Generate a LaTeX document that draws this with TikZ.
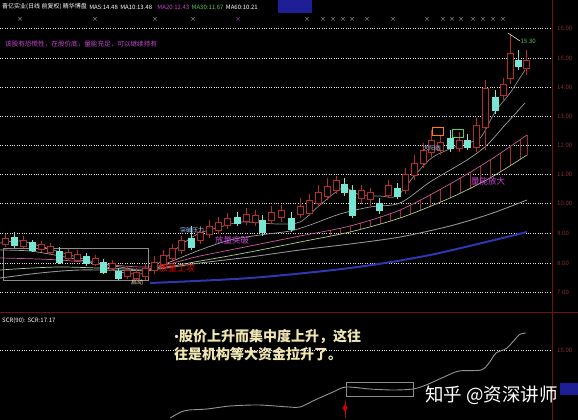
\documentclass[tikz,border=0pt]{standalone}
\usepackage{fontspec}
\setmainfont{Noto Sans CJK SC}
\usepackage{tikz}
\usetikzlibrary{positioning}
\definecolor{candlered}{RGB}{180,45,45}
\definecolor{candlecyan}{RGB}{120,230,210}
\definecolor{axisred}{RGB}{110,20,20}
\definecolor{labred}{RGB}{140,45,45}
\definecolor{magtext}{RGB}{200,70,210}
\definecolor{pinkline}{RGB}{200,90,150}
\definecolor{ribbonred}{RGB}{165,40,50}
\definecolor{greenline}{RGB}{175,205,140}
\definecolor{blueline}{RGB}{45,55,175}
\definecolor{hdrblue}{RGB}{30,30,150}
\definecolor{hdrgreen}{RGB}{90,200,90}
\definecolor{lightblue}{RGB}{170,200,255}
\definecolor{noteyellow}{RGB}{240,230,180}

\begin{document}
\begin{tikzpicture}[x=1pt,y=-1pt,
    rise/.style={draw=candlered,fill=black,line width=0.6pt},
    fall/.style={draw=candlecyan,fill=candlecyan,line width=0.6pt},
    maline/.style={line width=0.7pt},
    gridline/.style={gray!18,dotted,line width=0.4pt},
    axislab/.style={text=labred,font=\fontsize{6}{6}\selectfont,anchor=west,inner sep=0pt},
    hdr/.style={font=\fontsize{6}{6}\selectfont,inner sep=0pt},
    tag/.style={font=\fontsize{6}{6}\selectfont,inner sep=0.5pt}]
    \fill[black] (0,0) rectangle (578,420);
    \useasboundingbox (0,0) rectangle (578,420);
    % grid and axes
    \foreach \yy in {28,58,87,116,145,174,203,233,263,292,350}
      \draw[gridline] (0,\yy) -- (551,\yy);
    \draw[axisred,line width=0.8pt] (552,0) -- (552,420);
    \draw[axisred,line width=0.8pt] (0,312) -- (578,312);
    \foreach \p/\yy in {16.00/28,15.00/58,14.00/87,13.00/116,12.00/145,11.00/174,10.00/203,9.00/233,8.00/263,7.00/292,15.00/350}
      \node[axislab] (lab\yy) at (557,\yy) {\p};
    \fill[hdrblue] (560,383) rectangle (578,395);
    % header
    \node[hdr,anchor=west,text=white] (title) at (2,7) {晋亿实业(日线 前复权) 精华博盘};
    \node[hdr,right=2pt of title,text=white] (ma5) {MA5:14.48};
    \node[hdr,right=2pt of ma5,text=white] (ma10) {MA10:13.48};
    \node[hdr,right=5pt of ma10,text=magtext] (ma20) {MA20:12.43};
    \node[hdr,right=2pt of ma20,text=hdrgreen] (ma30) {MA30:11.67};
    \node[hdr,right=2pt of ma30,text=white] (ma60) {MA60:10.21};
    \fill[hdrblue] (278,0) rectangle (312,13);
    \foreach \x in {20,95,155,193,307,323,333,343,352,367,393,427,443,452,461,473,483,493,503}
      \node[hdr,text=gray!40] at (\x,19) {×};
    \node[hdr,text=magtext] at (238,19) {×};
    \node[hdr,anchor=west,text=magtext,font=\fontsize{6.6}{6.6}\selectfont] (hint) at (5,44) {该股有恐慌性，在股价底，量能充足，可以继续持有};
    % moving averages
    \draw[blueline,line width=2pt] plot[smooth] coordinates {(150,283) (250,278) (350,268) (430,255) (527,232)};
    \foreach \x/\a/\b in {330/230/236,340/228/234,350/226/232,360/222.8/229.2,370/219.6/226.4,380/216.4/223.6,390/213.2/220.8,400/210/218,410/204.8/214,420/199.6/210,430/194.4/206,440/189.2/202,450/184/198,460/178/193,470/172/188,480/166/183,490/160/178,500/153.2/171.8,510/146.5/165.6,520/139.7/159.4,527/135/155}
      \draw[ribbonred,line width=0.6pt] (\x,\a) -- (\x,\b);
    \draw[gray!85,line width=0.9pt] plot[smooth] coordinates {(0,278) (40,273) (80,270) (147,270) (200,263) (250,257) (300,250) (350,244) (400,237) (450,226) (490,214) (527,200)};
    \draw[greenline,maline] plot[smooth] coordinates {(0,270) (60,267) (147,269) (200,261) (250,252) (300,242) (350,232) (400,218) (450,198) (490,178) (527,155)};
    \draw[pinkline,maline] plot[smooth] coordinates {(0,258) (60,260) (147,267) (200,256) (250,246) (300,236) (350,226) (400,210) (450,184) (490,160) (527,135)};
    \draw[gray!75,maline] plot[smooth] coordinates {(0,250) (30,251) (60,256) (90,262) (120,267) (147,271) (170,262) (200,250) (230,240) (260,235) (290,231) (310,225) (340,214) (370,207) (400,203) (430,182) (467,160) (487,145) (505,125) (525,103)};
    \draw[gray!90,maline] plot[smooth] coordinates {(0,243) (20,241) (40,246) (60,252) (80,258) (100,264) (120,272) (140,274) (150,270) (165,258) (185,242) (200,233) (220,227) (240,222) (260,223) (280,224) (300,222) (320,205) (343,188) (360,195) (380,196) (397,196) (415,175) (433,157) (460,145) (480,138) (495,112) (510,93) (525,70)};
    \draw[gray!90,line width=0.7pt] (3,248) rectangle (148,280);
    % candles
    \foreach \x/\t/\b/\h/\l/\k in {5/238/244/234/247/rise,14/237/245/232/248/fall,23/240/246/236/248/rise,32/242/250/240/252/fall,
      41/244/249/241/252/rise,50/246/252/243/255/rise,59/251/262/247/264/fall,68/252/258/249/261/rise,77/254/260/250/262/rise,
      86/256/263/253/266/fall,95/258/264/255/266/rise,103/262/272/259/274/fall,112/263/268/260/271/rise,118/271/278/268/280/fall,
      127/270/276/266/279/rise,136/272/278/268/281/rise,145/268/276/264/280/rise,154/262/270/256/274/rise,163/255/264/250/268/rise,
      172/248/258/244/262/rise,181/240/250/236/254/rise,191/238/247/226/250/fall,200/232/240/226/244/rise,209/226/234/220/238/rise,
      218/222/230/217/234/rise,227/218/225/213/229/rise,237/217/223/212/226/fall,246/214/221/208/225/rise,255/215/222/210/226/rise,
      262/220/232/215/236/fall,271/212/220/206/224/rise,281/210/217/205/222/rise,291/218/229/212/232/fall,300/206/214/198/218/rise,
      309/200/213/194/216/rise,318/192/203/185/207/rise,327/186/196/178/200/rise,336/180/190/176/194/rise,344/184/192/178/196/fall,
      352/190/215/185/218/fall,361/190/198/185/204/rise,370/192/199/188/206/rise,379/203/210/198/214/fall,388/185/195/180/198/rise,
      397/188/196/183/199/fall,405/174/190/168/194/rise,414/163/175/155/180/rise,423/150/163/143/168/rise,431/140/152/130/157/rise,
      440/142/150/136/155/rise,450/138/148/130/152/fall,459/140/148/132/152/rise,467/140/147/134/150/fall,476/125/147/118/152/rise,
      485/88/127/80/150/rise,495/97/110/90/114/fall,503/84/95/78/100/rise,510/53/78/35/84/rise,518/60/66/50/70/fall,526/60/68/50/75/rise}
    {
      \draw[\k] (\x,\h) -- (\x,\t) (\x,\b) -- (\x,\l);
      \filldraw[\k] (\x-3,\t) rectangle (\x+3,\b);
    }
    % notes on the chart
    \node[tag,text=noteyellow] (start) at (137,282) {启动};
    \node[tag,text=red!85!black,font=\fontsize{9}{9}\selectfont] (volup) at (177,268) {放量上攻};
    \node[tag,text=lightblue] (brk) at (192,230) {突破压力};
    \node[tag,text=magtext,font=\fontsize{8.5}{8.5}\selectfont] (hold) at (232,240) {放量突破};
    \node[tag,text=lightblue] (bigyang) at (432,148) {大阳线};
    \draw[orange,line width=0.6pt] (432,127) rectangle (443,135);
    \draw[hdrgreen,line width=0.6pt] (452,129) rectangle (463,137);
    \node[tag,text=magtext,font=\fontsize{8.5}{8.5}\selectfont] (keep) at (488,181) {量能放大};
    \node[tag,text=hdrgreen,anchor=west] (top) at (520,41) {15.30};
    \coordinate (peak) at (508,33);
    \draw[white,line width=0.5pt] (peak) -- (top.west);
    % lower panel
    \node[hdr,anchor=west,text=white] (scr) at (2,321) {SCR(90): SCR:17.17};
    \draw[gray!85,line width=0.9pt] plot[smooth] coordinates {(170,418) (181,412) (189,410) (207,409) (230,406) (259,405) (289,407) (300,407) (315,400) (333,392) (346,387) (370,389) (393,390) (413,389) (426,385) (444,377) (459,371) (481,370) (489,363) (496,353) (507,348) (519,335) (526,333)};
    \draw[gray!90,line width=0.7pt] (346,382) rectangle (413,396);
    \draw[red!80!black,line width=0.6pt] (345,401) -- (345,418);
    \fill[red!80!black] (345,404) -- (347.5,408) -- (345,412) -- (342.5,408) -- cycle;
    \node[anchor=north west,align=left,inner sep=0pt,text=noteyellow,font=\fontsize{14}{18}\selectfont\bfseries] (note) at (174,329) {\makebox[5pt]{\fontsize{12}{12}\selectfont•}股价上升而集中度上升，这往\\往是机构等大资金拉升了。};
    \node[anchor=west,inner sep=0pt,text=white,font=\fontsize{18.5}{18.5}\selectfont] (mark) at (425,395) {知乎 @资深讲师};
  \end{tikzpicture}
\end{document}
